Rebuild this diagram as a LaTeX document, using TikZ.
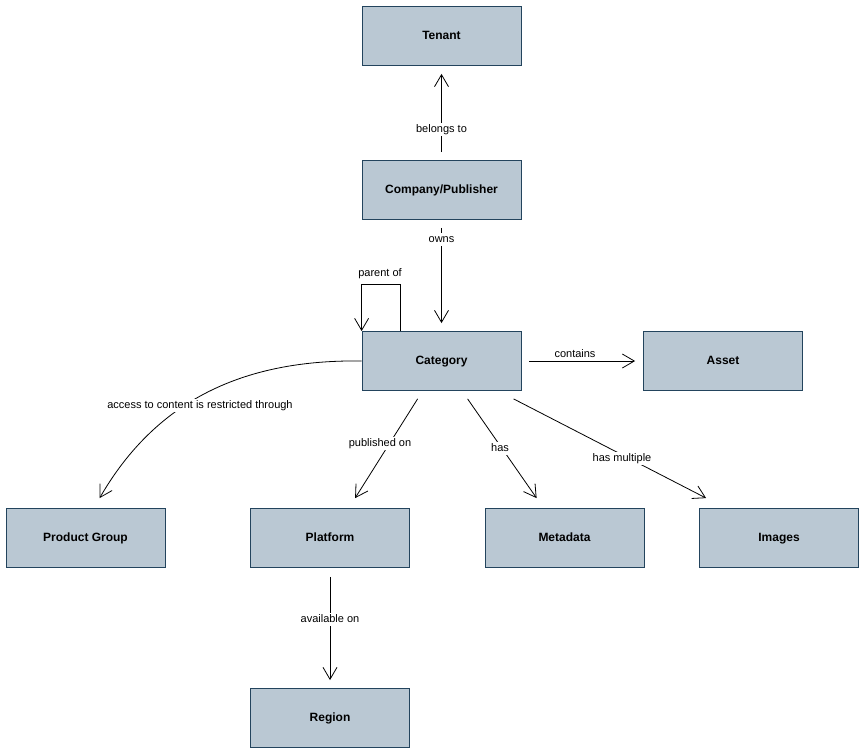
\documentclass[tikz,border=0pt]{standalone}
\usepackage{fontspec}
\setmainfont{Liberation Sans}
\usetikzlibrary{arrows.meta}
\definecolor{boxfill}{HTML}{BAC8D3}
\definecolor{boxdraw}{HTML}{23445D}
\begin{document}
\begin{tikzpicture}[x=1pt,y=-1pt,
  entity/.style={draw=boxdraw,fill=boxfill,line width=0.8pt,minimum width=159pt,minimum height=59pt,inner sep=0pt,text height=9pt,text depth=2.5pt,font=\fontsize{12}{14}\selectfont\bfseries},
  arr/.style={line width=0.8pt,-{Straight Barb[length=12pt,width=14pt,line width=0.8pt]}},
  lbl/.style={font=\fontsize{11}{13}\selectfont,fill=white,inner sep=1.5pt,text height=8pt,text depth=2.3pt},
  plainlbl/.style={font=\fontsize{11}{13}\selectfont,inner sep=1pt,text height=8pt,text depth=2.3pt}]
\useasboundingbox (0,0) rectangle (866,753);
\node[entity] (ten) at (441.5,36) {Tenant};
\node[entity] (comp) at (441.5,190) {Company/Publisher};
\node[entity] (cat) at (441.5,361) {Category};
\node[entity] (asset) at (723,361) {Asset};
\node[entity] (pg) at (85.5,538) {Product Group};
\node[entity] (plat) at (330,538) {Platform};
\node[entity] (meta) at (564.5,538) {Metadata};
\node[entity] (img) at (779,538) {Images};
\node[entity] (reg) at (330,718) {Region};

\draw[arr] ([yshift=8pt]comp.north) -- ([yshift=-8pt]ten.south);
\draw[arr] ([yshift=-8pt]comp.south) -- ([yshift=8pt]cat.north);
\draw[arr] ([xshift=39pt]cat.north west) -- ++(0,-47) -| (cat.north west);
\draw[arr] ([xshift=8pt]cat.east) -- ([xshift=-8pt]asset.west);
\draw[arr] (cat.west) .. controls (230,359) and (150,411) .. ([xshift=94pt,yshift=10pt]pg.north west);
\draw[arr] ([xshift=56pt,yshift=-8pt]cat.south west) -- ([xshift=105pt,yshift=10pt]plat.north west);
\draw[arr] ([xshift=106pt,yshift=-8pt]cat.south west) -- ([xshift=52pt,yshift=10pt]meta.north west);
\draw[arr] ([xshift=152pt,yshift=-8pt]cat.south west) -- ([xshift=7pt,yshift=10pt]img.north west);
\draw[arr] ([yshift=-9pt]plat.south) -- ([yshift=8pt]reg.north);

\node[lbl] (l1) at (441.5,129.5) {belongs to};
\node[lbl] (l2) at (441.5,239.5) {owns};
\node[plainlbl] (l3) at (380,273.5) {parent of};
\node[plainlbl] (l4) at (575,354.5) {contains};
\node[lbl] (l5) at (200,405.5) {access to content is restricted through};
\node[lbl] (l6) at (380,443.5) {published on};
\node[lbl] (l7) at (500,448.5) {has};
\node[lbl] (l8) at (622,458.5) {has multiple};
\node[lbl] (l9) at (330,619.5) {available on};
\end{tikzpicture}
\end{document}
